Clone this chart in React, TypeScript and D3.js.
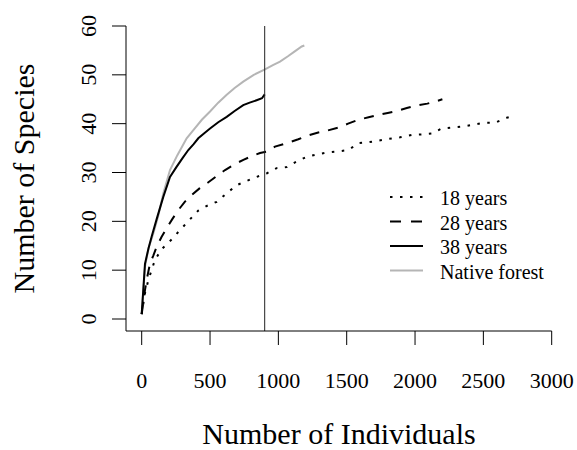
import React from "react";
import * as d3 from "d3";

type P = [number, number];

const xTicks = [0, 500, 1000, 1500, 2000, 2500, 3000];
const yTicks = [0, 10, 20, 30, 40, 50, 60];
const cutoff = 900;

const years18: P[] = [[0,1],[24,5.3],[49,8],[97,12.1],[146,14.3],[219,16.3],[280,18.2],[353,20.4],[414,22.2],[480,23.2],[549,24],[620,25.7],[695,27.4],[770,28.3],[841,29.1],[914,29.8],[988,30.9],[1061,31.1],[1130,32.2],[1207,33.2],[1280,33.7],[1354,34.1],[1430,34.3],[1512,34.6],[1585,36],[1660,36.2],[1731,36.5],[1810,36.9],[1890,37.2],[1976,37.7],[2050,37.8],[2122,38],[2195,39],[2270,39.2],[2353,39.4],[2430,39.8],[2500,40.2],[2585,40.2],[2671,41.2],[2700,41.4]];
const years28: P[] = [[0,1],[24,5.9],[40,8.5],[61,11.4],[85,13],[110,14.8],[145,16.8],[183,18.6],[225,20.5],[268,22.3],[315,24],[366,25.4],[425,26.8],[488,28],[550,29.3],[610,30.5],[680,31.7],[744,32.6],[810,33.4],[866,34],[920,34.3],[975,35.3],[1060,36],[1146,36.8],[1220,37.6],[1292,38.2],[1360,38.6],[1439,39.2],[1510,40],[1585,40.8],[1660,41.3],[1731,41.8],[1800,42.2],[1866,42.6],[1940,43.2],[2012,43.7],[2090,44.1],[2158,44.6],[2200,45]];
const years38: P[] = [[0,1],[24,11.3],[50,14.5],[73,16.9],[110,20.5],[158,25],[207,29.1],[256,31.2],[300,33],[341,34.6],[380,35.8],[414,37],[460,38.1],[500,39],[560,40.3],[622,41.4],[680,42.6],[743,43.8],[790,44.3],[841,44.8],[880,45.2],[900,46]];
const nativeForest: P[] = [[0,1],[10,5],[24,10.7],[50,14.5],[85,17.5],[120,21],[158,25.7],[207,30.5],[260,33.5],[329,37],[378,38.7],[440,40.8],[500,42.5],[560,44.3],[622,45.9],[680,47.3],[743,48.6],[820,50],[902,51.1],[960,52],[1012,52.7],[1070,53.8],[1120,54.8],[1171,55.8],[1190,56]];

const seriesNames = ["18 years", "28 years", "38 years", "Native forest"];
const seriesData = [years18, years28, years38, nativeForest];

const styles = [
  { stroke: "#000", dash: "2.5,7.5", legendDash: "2.5,7.5" },
  { stroke: "#000", dash: "10,9", legendDash: "11,10" },
  { stroke: "#000", dash: null, legendDash: null },
  { stroke: "#b5b5b5", dash: null, legendDash: null },
];

export default function App() {
  const W = 577, H = 450;
  const x = d3.scaleLinear().domain([0, 3000]).range([141.7, 551.7]);
  const y = d3.scaleLinear().domain([0, 60]).range([319, 26]);
  const left = 126, bottom = 331, top = 26;
  const line = d3.line<P>().x(d => x(d[0])).y(d => y(d[1]));
  const font = "'Liberation Serif', 'Times New Roman', serif";
  const order = [3, 2, 1, 0];

  return (
    <svg width={W} height={H} style={{ position: "absolute", left: 0, top: 0, background: "#fff" }} fontFamily={font}>
      <rect width={W} height={H} fill="#fff" />
      {order.map(i => (
        <path key={i} d={line(seriesData[i]) || ""} fill="none" stroke={styles[i].stroke}
          strokeWidth={2} strokeDasharray={styles[i].dash || undefined} />
      ))}
      <line x1={x(cutoff)} x2={x(cutoff)} y1={top} y2={bottom} stroke="#222" strokeWidth={1} />
      <line x1={left} x2={left} y1={top} y2={bottom} stroke="#000" strokeWidth={1} />
      <line x1={left} x2={x(3000)} y1={bottom} y2={bottom} stroke="#000" strokeWidth={1} />
      {xTicks.map(t => (
        <g key={t}>
          <line x1={x(t)} x2={x(t)} y1={bottom} y2={bottom + 14} stroke="#000" strokeWidth={1} />
          <text x={x(t)} y={388} textAnchor="middle" fontSize={22}>{t}</text>
        </g>
      ))}
      {yTicks.map(t => (
        <g key={t}>
          <line x1={left - 14} x2={left} y1={y(t)} y2={y(t)} stroke="#000" strokeWidth={1} />
          <text transform={`translate(96,${y(t)}) rotate(-90)`} textAnchor="middle" fontSize={22}>{t}</text>
        </g>
      ))}
      <text x={339} y={444} textAnchor="middle" fontSize={30}>Number of Individuals</text>
      <text transform={`translate(34,178.5) rotate(-90)`} textAnchor="middle" fontSize={30}>Number of Species</text>
      {seriesNames.map((n, i) => {
        const by = 205 + i * 24.5;
        return (
          <g key={n}>
            <line x1={390} x2={423} y1={by - 8} y2={by - 8} stroke={styles[i].stroke} strokeWidth={2}
              strokeDasharray={styles[i].legendDash || undefined} />
            <text x={440} y={by} fontSize={20}>{n}</text>
          </g>
        );
      })}
    </svg>
  );
}
